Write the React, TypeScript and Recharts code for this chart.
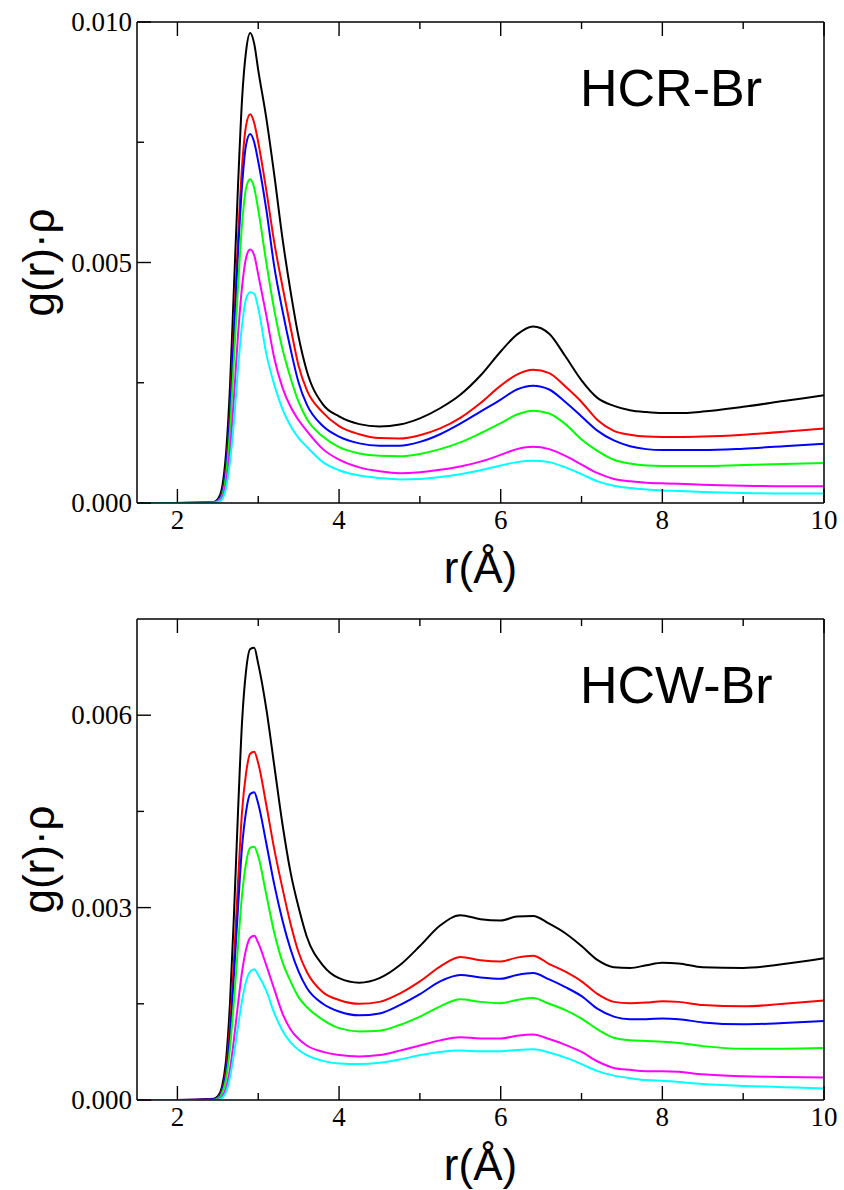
import { LineChart, Line, XAxis, YAxis } from 'recharts'

// r grid (Å) shared by both panels
const rGrid = [
  1.5, 2.0, 2.45, 2.5, 2.55, 2.6, 2.65, 2.7, 2.75, 2.8, 2.85, 2.9, 2.95, 3.0, 3.1,
  3.2, 3.3, 3.4, 3.5, 3.6, 3.8, 4.0, 4.25, 4.5, 4.75, 5.0, 5.25, 5.5, 5.75, 6.0,
  6.2, 6.4, 6.6, 6.8, 7.0, 7.2, 7.4, 7.6, 7.8, 8.0, 8.2, 8.5, 9.0, 9.5, 10.0,
]

// HCR-Br, g(r)·ρ in units of 1e-3
const hcrBlack = [
  0, 0, 0.02, 0.08, 0.3, 1.0, 2.4, 4.5, 6.6, 8.4, 9.4, 9.77, 9.55, 9.0, 8.0,
  6.8, 5.5, 4.4, 3.45, 2.75, 2.05, 1.8, 1.64, 1.59, 1.63, 1.76, 1.97, 2.25, 2.65, 3.15,
  3.5, 3.67, 3.52, 3.05, 2.55, 2.18, 2.02, 1.93, 1.89, 1.87, 1.87, 1.9, 2.0, 2.12, 2.24,
]
const hcrRed = [
  0, 0, 0.01, 0.05, 0.2, 0.75, 1.9, 3.7, 5.5, 7.0, 7.85, 8.08, 7.9, 7.5, 6.5,
  5.4, 4.5, 3.65, 2.85, 2.35, 1.88, 1.6, 1.43, 1.35, 1.34, 1.41, 1.55, 1.77, 2.08, 2.44,
  2.67, 2.77, 2.7, 2.42, 2.1, 1.72, 1.5, 1.42, 1.38, 1.37, 1.37, 1.38, 1.42, 1.48, 1.55,
]
const hcrBlue = [
  0, 0, 0.01, 0.05, 0.18, 0.7, 1.8, 3.5, 5.2, 6.6, 7.45, 7.67, 7.5, 7.1, 6.1,
  4.9, 4.0, 3.2, 2.5, 2.05, 1.6, 1.38, 1.24, 1.19, 1.19, 1.27, 1.43, 1.65, 1.9, 2.15,
  2.36, 2.44, 2.36, 2.1, 1.8, 1.5, 1.3, 1.18, 1.12, 1.1, 1.1, 1.1, 1.13, 1.18, 1.23,
]
const hcrGreen = [
  0, 0, 0.01, 0.04, 0.14, 0.55, 1.5, 3.0, 4.5, 5.8, 6.55, 6.73, 6.55, 6.1, 5.0,
  4.0, 3.2, 2.6, 2.1, 1.75, 1.38, 1.16, 1.03, 0.98, 0.97, 1.02, 1.12, 1.26, 1.45, 1.66,
  1.84, 1.92, 1.86, 1.64, 1.32, 1.08, 0.9, 0.82, 0.78, 0.77, 0.77, 0.77, 0.79, 0.81, 0.83,
]
const hcrMagenta = [
  0, 0, 0, 0.03, 0.1, 0.4, 1.1, 2.2, 3.5, 4.5, 5.1, 5.27, 5.15, 4.75, 3.9,
  3.0, 2.4, 2.0, 1.72, 1.5, 1.12, 0.9, 0.74, 0.66, 0.62, 0.64, 0.69, 0.76, 0.86, 1.0,
  1.12, 1.17, 1.12, 0.98, 0.8, 0.62, 0.5, 0.45, 0.42, 0.41, 0.4, 0.38, 0.36, 0.35, 0.35,
]
const hcrCyan = [
  0, 0, 0, 0.02, 0.07, 0.3, 0.85, 1.7, 2.8, 3.7, 4.25, 4.38, 4.35, 4.05, 3.1,
  2.45, 1.95, 1.6, 1.35, 1.17, 0.85, 0.68, 0.57, 0.52, 0.49, 0.5, 0.54, 0.6, 0.68, 0.78,
  0.85, 0.88, 0.85, 0.74, 0.6, 0.45, 0.36, 0.31, 0.28, 0.26, 0.25, 0.23, 0.21, 0.2, 0.2,
]

// HCW-Br, g(r)·ρ in units of 1e-3
const hcwBlack = [
  0, 0, 0.02, 0.06, 0.2, 0.6, 1.5, 2.9, 4.5, 5.9, 6.7, 7.03, 7.05, 6.8, 6.1,
  5.2, 4.3, 3.55, 3.0, 2.55, 2.1, 1.9, 1.83, 1.9, 2.1, 2.4, 2.72, 2.88, 2.82, 2.8,
  2.86, 2.87, 2.75, 2.6, 2.4, 2.18, 2.07, 2.06, 2.1, 2.14, 2.13, 2.07, 2.06, 2.12, 2.21,
]
const hcwRed = [
  0, 0, 0.01, 0.04, 0.15, 0.45, 1.15, 2.2, 3.4, 4.5, 5.1, 5.4, 5.43, 5.25, 4.6,
  3.9, 3.3, 2.75, 2.3, 2.0, 1.68, 1.56, 1.5, 1.53, 1.66, 1.85, 2.08, 2.23, 2.18, 2.16,
  2.22, 2.25, 2.12, 2.0, 1.85, 1.65, 1.53, 1.51, 1.52, 1.54, 1.53, 1.48, 1.46, 1.5, 1.55,
]
const hcwBlue = [
  0, 0, 0.01, 0.03, 0.13, 0.4, 1.0, 1.95, 3.0, 3.95, 4.5, 4.77, 4.8, 4.62, 4.0,
  3.35, 2.8, 2.35, 2.0, 1.75, 1.5, 1.38, 1.32, 1.35, 1.48, 1.65, 1.85, 1.95, 1.91, 1.89,
  1.95, 1.98, 1.88, 1.76, 1.62, 1.42, 1.3, 1.26, 1.26, 1.27, 1.26, 1.21, 1.18, 1.2, 1.23,
]
const hcwGreen = [
  0, 0, 0, 0.02, 0.1, 0.32, 0.8, 1.55, 2.4, 3.2, 3.7, 3.93, 3.95, 3.8, 3.2,
  2.6, 2.15, 1.85, 1.6, 1.45, 1.25, 1.12, 1.07, 1.08, 1.17, 1.3, 1.46, 1.57, 1.53, 1.51,
  1.56, 1.59, 1.5, 1.4, 1.27, 1.1, 0.97, 0.93, 0.92, 0.91, 0.89, 0.84, 0.8, 0.8, 0.81,
]
const hcwMagenta = [
  0, 0, 0, 0.01, 0.05, 0.18, 0.48, 0.95, 1.5, 2.0, 2.35, 2.53, 2.56, 2.45, 2.1,
  1.72, 1.35, 1.1, 0.95, 0.85, 0.75, 0.7, 0.68, 0.7, 0.77, 0.85, 0.93, 0.98, 0.96, 0.96,
  1.0, 1.02, 0.95, 0.86, 0.75, 0.6, 0.5, 0.47, 0.45, 0.45, 0.44, 0.4, 0.37, 0.36, 0.35,
]
const hcwCyan = [
  0, 0, 0, 0, 0.03, 0.12, 0.35, 0.72, 1.15, 1.55, 1.85, 2.0, 2.04, 1.95, 1.7,
  1.35, 1.08, 0.9, 0.78, 0.7, 0.61, 0.57, 0.56, 0.58, 0.63, 0.7, 0.75, 0.77, 0.76, 0.76,
  0.78, 0.79, 0.74, 0.66, 0.56, 0.45, 0.38, 0.34, 0.31, 0.3, 0.28, 0.25, 0.22, 0.2, 0.18,
]

const seriesKeys = ['black', 'red', 'blue', 'green', 'magenta', 'cyan']
const seriesColors = ['#000000', '#ff0000', '#0000ff', '#00ff00', '#ff00ff', '#00ffff']

const xTicks = [2, 3, 4, 5, 6, 7, 8, 9, 10]
const hcrYTicks = [0, 2.5, 5, 7.5, 10]
const hcwYTicks = [0, 1.5, 3, 4.5, 6]

const buildRows = (cols: number[][]) =>
  rGrid.map((r, i) => {
    const row: any = { r }
    seriesKeys.forEach((k, j) => (row[k] = cols[j][i]))
    return row
  })

const hcrRows = buildRows([hcrBlack, hcrRed, hcrBlue, hcrGreen, hcrMagenta, hcrCyan])
const hcwRows = buildRows([hcwBlack, hcwRed, hcwBlue, hcwGreen, hcwMagenta, hcwCyan])

const SERIF = { fontFamily: "'Liberation Serif', 'Times New Roman', serif" }
const SANS = { fontFamily: "'Liberation Sans', Arial, Helvetica, sans-serif" }
const MAJOR = 14
const MINOR = 7
const TINY = 0.0001 // tickSize 0 falls back to the default, so use a near-zero size
const axisLine = { stroke: '#000', strokeWidth: 1.5 }

const BottomTick = ({ x, y, payload }: any) => {
  const major = payload.value % 2 === 0
  return (
    <g>
      <line x1={x} x2={x} y1={y} y2={y - (major ? MAJOR : MINOR)} stroke="#000" strokeWidth={1.4} />
      {major && (
        <text x={x} y={y + 26} textAnchor="middle" style={SERIF} fontSize={27} fill="#000">
          {payload.value}
        </text>
      )}
    </g>
  )
}

const TopTick = ({ x, y, payload }: any) => {
  const major = payload.value % 2 === 0
  return <line x1={x} x2={x} y1={y} y2={y + (major ? MAJOR : MINOR)} stroke="#000" strokeWidth={1.4} />
}

const LeftTick = ({ x, y, payload }: any) => {
  const major = Number.isInteger(payload.value)
  return (
    <g>
      <line x1={x} x2={x + (major ? MAJOR : MINOR)} y1={y} y2={y} stroke="#000" strokeWidth={1.4} />
      {major && (
        <text x={x - 5} y={y + 9} textAnchor="end" style={SERIF} fontSize={27} fill="#000">
          {(payload.value / 1000).toFixed(3)}
        </text>
      )}
    </g>
  )
}

const RightTick = ({ x, y, payload }: any) => {
  const major = Number.isInteger(payload.value)
  return <line x1={x} x2={x - (major ? MAJOR : MINOR)} y1={y} y2={y} stroke="#000" strokeWidth={1.4} />
}

const XTitle = ({ viewBox }: any) => (
  <text x={viewBox.x + viewBox.width / 2} y={viewBox.y + 80} textAnchor="middle" style={SANS} fontSize={44} fill="#000">
    r(Å)
  </text>
)

const YTitle = ({ viewBox }: any) => {
  const x = viewBox.x + 54
  const y = viewBox.y + viewBox.height / 2
  return (
    <text x={x} y={y} transform={`rotate(-90, ${x}, ${y})`} textAnchor="middle" style={SANS} fontSize={44} fill="#000">
      g(r)·ρ
    </text>
  )
}

const makeTag = (name: string) => ({ viewBox }: any) => (
  <text x={viewBox.x + 443} y={viewBox.y + 85} style={SANS} fontSize={52} fill="#000">
    {name}
  </text>
)

function Panel({ rows, yMax, yTicks, name, height, top }: any) {
  const Tag = makeTag(name)
  return (
    <LineChart width={844} height={height} data={rows} margin={{ top: top - 1, right: 19, bottom: 0, left: 0 }}>
      <XAxis
        dataKey="r" type="number" domain={[1.5, 10]} ticks={xTicks} interval={0}
        tickSize={TINY} tickMargin={0} tickLine={false} tick={<BottomTick />}
        axisLine={axisLine} height={height - top - 481}
        label={(p: any) => <XTitle {...p} />}
      />
      <XAxis
        xAxisId="top" orientation="top" dataKey="r" type="number" domain={[1.5, 10]}
        ticks={xTicks} interval={0} tickSize={TINY} tickMargin={0} tickLine={false}
        tick={<TopTick />} axisLine={axisLine} height={1}
        label={(p: any) => <Tag {...p} />}
      />
      <YAxis
        type="number" domain={[0, yMax]} ticks={yTicks} interval={0} allowDataOverflow
        tickSize={TINY} tickMargin={0} tickLine={false} tick={<LeftTick />}
        axisLine={axisLine} width={137}
        label={(p: any) => <YTitle {...p} />}
      />
      <YAxis
        yAxisId="right" orientation="right" type="number" domain={[0, yMax]} ticks={yTicks}
        interval={0} tickSize={TINY} tickMargin={0} tickLine={false} tick={<RightTick />}
        axisLine={axisLine} width={1}
      />
      {seriesKeys.map((k, i) => (
        <Line
          key={k} type="monotone" dataKey={k} stroke={seriesColors[i]} strokeWidth={2}
          dot={false} activeDot={false} isAnimationActive={false}
        />
      ))}
    </LineChart>
  )
}

export default function App() {
  return (
    <div style={{ position: 'absolute', left: 0, top: 0, width: 844, height: 1190, background: '#fff' }}>
      <Panel rows={hcrRows} yMax={10} yTicks={hcrYTicks} name="HCR-Br" height={596} top={22} />
      <Panel rows={hcwRows} yMax={7.5} yTicks={hcwYTicks} name="HCW-Br" height={594} top={23} />
    </div>
  )
}
